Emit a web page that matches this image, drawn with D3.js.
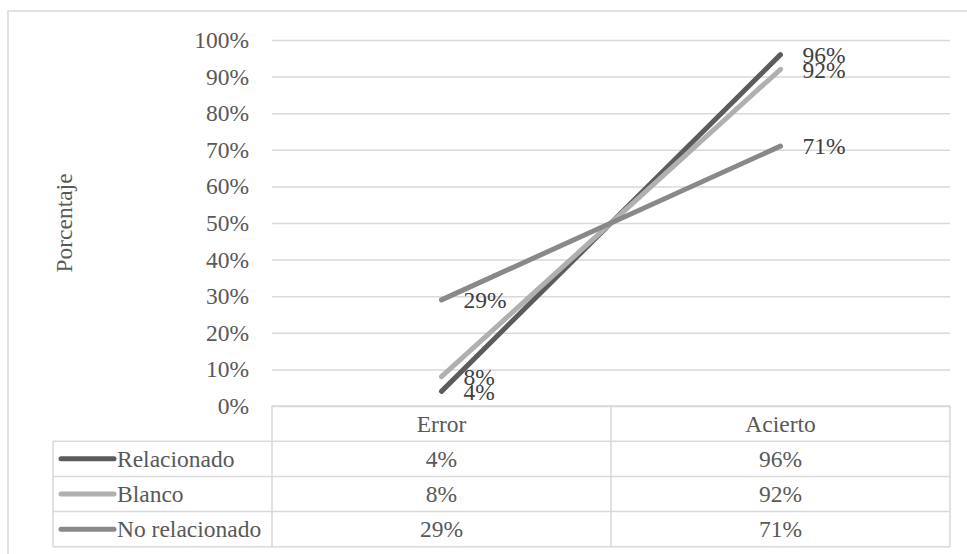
<!DOCTYPE html>
<html>
<head>
<meta charset="utf-8">
<script src="https://cdn.jsdelivr.net/npm/d3@7"></script>
<style>
  html, body { margin: 0; padding: 0; background: #fff; }
  svg { display: block; }
  text { font-family: "Liberation Serif", "Times New Roman", serif; }
</style>
</head>
<body>
<svg id="chart" width="967" height="554"></svg>
<script>
// Categories along the x axis
const categories = ["Error", "Acierto"];

// Series names and their values (fractions)
const seriesNames = ["Relacionado", "Blanco", "No relacionado"];
const relacionado = [0.04, 0.96];
const blanco = [0.08, 0.92];
const noRelacionado = [0.29, 0.71];

// Y axis ticks
const yTicks = [0, 0.1, 0.2, 0.3, 0.4, 0.5, 0.6, 0.7, 0.8, 0.9, 1.0];

const seriesValues = [relacionado, blanco, noRelacionado];
const seriesColors = ["#5c5c5c", "#b0b0b0", "#898989"];

const W = 967, H = 554;
const plot = { left: 272, right: 950, top: 40, bottom: 406 };
const tableLeft = 53;
const rowH = 35.2;
const gridColor = "#d9d9d9";
const textColor = "#595959";
const labelColor = "#404040";
const fontSize = 23.5;
const serif = "Liberation Serif, Times New Roman, serif";

const svg = d3.select("#chart");

// Outer chart frame
svg.append("rect")
  .attr("x", 8).attr("y", 11)
  .attr("width", W).attr("height", H)
  .attr("fill", "#fff")
  .attr("stroke", gridColor).attr("stroke-width", 1.5);

const x = d3.scalePoint()
  .domain(categories)
  .range([plot.left, plot.right])
  .padding(0.5);

const y = d3.scaleLinear()
  .domain([0, 1])
  .range([plot.bottom, plot.top]);

const pct = d3.format(".0%");

// Horizontal gridlines + tick labels via a left axis
const yAxis = d3.axisLeft(y)
  .tickValues(yTicks)
  .tickFormat(pct)
  .tickSize(-(plot.right - plot.left))
  .tickPadding(23);

const gy = svg.append("g")
  .attr("transform", `translate(${plot.left},0)`)
  .call(yAxis)
  .attr("font-family", serif)
  .attr("font-size", fontSize);
gy.select(".domain").remove();
gy.selectAll(".tick line")
  .attr("stroke", gridColor).attr("stroke-width", 1.5);
gy.selectAll(".tick text")
  .attr("fill", textColor);

// Y axis title
svg.append("text")
  .attr("transform", `translate(72,${(plot.top + plot.bottom) / 2}) rotate(-90)`)
  .attr("text-anchor", "middle")
  .attr("fill", textColor)
  .attr("font-size", fontSize)
  .text("Porcentaje");

// Series lines
const line = d3.line()
  .x((d, i) => x(categories[i]))
  .y(d => y(d));

seriesValues.forEach((vals, s) => {
  svg.append("path")
    .datum(vals)
    .attr("d", line)
    .attr("fill", "none")
    .attr("stroke", seriesColors[s])
    .attr("stroke-width", 5)
    .attr("stroke-linecap", "round");
});

// Data labels to the right of each point
seriesValues.forEach((vals) => {
  svg.append("g").selectAll("text")
    .data(vals)
    .join("text")
    .attr("x", (d, i) => x(categories[i]) + 22)
    .attr("y", d => y(d))
    .attr("dy", "0.35em")
    .attr("fill", labelColor)
    .attr("font-size", fontSize)
    .text(d => pct(d));
});

// Data table below the plot
const band = x.step();
const colEdges = [plot.left].concat(categories.map(c => x(c) + band / 2));
const tableTop = plot.bottom;
const rowYs = d3.range(seriesNames.length + 2).map(i => tableTop + i * rowH);
const tbl = svg.append("g")
  .attr("stroke", gridColor).attr("stroke-width", 1.5).attr("fill", "none");

// header row (category names)
tbl.append("line")
  .attr("x1", plot.left).attr("x2", plot.right)
  .attr("y1", rowYs[0]).attr("y2", rowYs[0]);
// series rows
rowYs.slice(1).forEach(yy => {
  tbl.append("line")
    .attr("x1", tableLeft).attr("x2", plot.right)
    .attr("y1", yy).attr("y2", yy);
});
// vertical separators
tbl.append("line")
  .attr("x1", tableLeft).attr("x2", tableLeft)
  .attr("y1", rowYs[1]).attr("y2", rowYs[rowYs.length - 1]);
colEdges.forEach(xx => {
  tbl.append("line")
    .attr("x1", xx).attr("x2", xx)
    .attr("y1", rowYs[0]).attr("y2", rowYs[rowYs.length - 1]);
});

// category header text
svg.append("g").selectAll("text")
  .data(categories)
  .join("text")
  .attr("x", d => x(d))
  .attr("y", rowYs[0] + rowH / 2)
  .attr("dy", "0.35em")
  .attr("text-anchor", "middle")
  .attr("fill", textColor)
  .attr("font-size", fontSize)
  .text(d => d);

// legend keys, names and values
seriesNames.forEach((name, s) => {
  const cy = rowYs[s + 1] + rowH / 2;
  svg.append("line")
    .attr("x1", 61).attr("x2", 114)
    .attr("y1", cy).attr("y2", cy)
    .attr("stroke", seriesColors[s])
    .attr("stroke-width", 5)
    .attr("stroke-linecap", "round");
  svg.append("text")
    .attr("x", 117)
    .attr("y", cy)
    .attr("dy", "0.35em")
    .attr("fill", textColor)
    .attr("font-size", fontSize)
    .text(name);
  svg.append("g").selectAll("text")
    .data(seriesValues[s])
    .join("text")
    .attr("x", (d, i) => x(categories[i]))
    .attr("y", cy)
    .attr("dy", "0.35em")
    .attr("text-anchor", "middle")
    .attr("fill", textColor)
    .attr("font-size", fontSize)
    .text(d => pct(d));
});
</script>
</body>
</html>
